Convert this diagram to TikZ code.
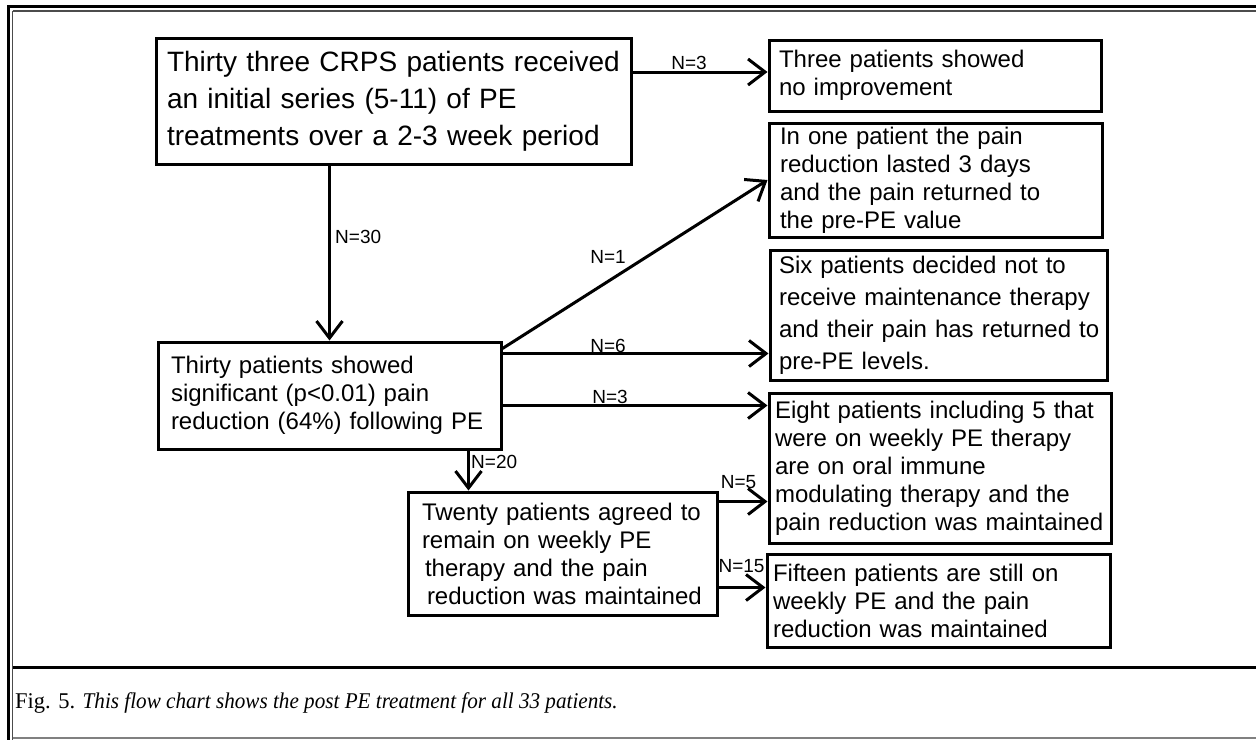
\documentclass[tikz,border=0pt]{standalone}
\usepackage{fontspec}
\setmainfont{Liberation Sans}
\newfontfamily\capfont{Liberation Serif}
\newfontfamily\capfontit{Liberation Serif}[FakeStretch=0.94]
\usetikzlibrary{arrows.meta,calc}
\begin{document}
\begin{tikzpicture}[x=1pt,y=-1pt,
  box/.style={draw, line width=3pt, align=left, inner ysep=0pt, anchor=center},
  fbig/.style={font=\fontsize{28}{37}\selectfont},
  fmid/.style={font=\fontsize{24}{28}\selectfont},
  fwide/.style={font=\fontsize{24}{32}\selectfont},
  lab/.style={font=\fontsize{19}{21}\selectfont, inner sep=0pt},
  conn/.style={line width=3pt, -{Straight Barb[length=17pt,width=26pt]}},
  thickrule/.style={line width=3pt, black},
  thinrule/.style={line width=1.5pt, black!70},
]
\useasboundingbox (0,0) rectangle (1256,740);
\fill[white] (0,0) rectangle (1256,740);

% frame
\draw[thickrule] (8,6.5) -- (1256,6.5);
\draw[thickrule] (8,5) -- (8,740);
\draw[thinrule] (12.5,11) -- (1256,11);
\draw[thinrule] (12.5,11) -- (12.5,740);
\draw[thickrule] (12.5,667.5) -- (1256,667.5);
\draw[line width=2pt, black!50] (12.5,738) -- (1256,738);

% boxes
\node[box, fbig, minimum width=475pt, minimum height=126pt, inner xsep=11pt, text width=453pt] (b1) at (393.5,101.5)
  {\mbox{Thirty three CRPS patients received}\\\mbox{an initial series (5-11) of PE}\\\mbox{treatments over a 2-3 week period}};
\node[box, fmid, minimum width=332pt, minimum height=71pt, inner xsep=10pt, text width=312pt] (b2) at (935,75.5)
  {\mbox{Three patients showed}\\\mbox{no improvement}};
\node[box, fmid, minimum width=333pt, minimum height=114pt, inner xsep=11pt, text width=311pt] (b3) at (935.5,180)
  {\mbox{In one patient the pain}\\\mbox{reduction lasted 3 days}\\\mbox{and the pain returned to}\\\mbox{the pre-PE value}};
\node[box, fwide, minimum width=337pt, minimum height=130pt, inner xsep=9pt, text width=319pt] (b4) at (938.5,315)
  {\mbox{Six patients decided not to}\\\mbox{receive maintenance therapy}\\\mbox{and their pain has returned to}\\\mbox{pre-PE levels.}};
\node[box, fmid, minimum width=342pt, minimum height=150pt, inner xsep=6pt, text width=330pt] (b5) at (940,468)
  {\mbox{Eight patients including 5 that}\\\mbox{were on weekly PE therapy}\\\mbox{are on oral immune}\\\mbox{modulating therapy and the}\\\mbox{pain reduction was maintained}};
\node[box, fmid, minimum width=343pt, minimum height=93pt, inner xsep=6pt, text width=331pt] (b6) at (938.5,600.5)
  {\mbox{Fifteen patients are still on}\\\mbox{weekly PE and the pain}\\\mbox{reduction was maintained}};
\node[box, fmid, minimum width=343pt, minimum height=107pt, inner xsep=13pt, text width=317pt] (bB) at (329.5,395.5)
  {\mbox{Thirty patients showed}\\\mbox{significant (p<0.01) pain}\\\mbox{reduction (64\%) following PE}};
\node[box, fmid, minimum width=309pt, minimum height=123pt, inner xsep=14pt, text width=281pt] (bC) at (562.5,553.5)
  {\mbox{Twenty patients agreed to}\\\mbox{remain on weekly PE}\\\mbox{\hspace*{3pt}therapy and the pain}\\\mbox{\hspace*{5pt}reduction was maintained}};

% connectors
\coordinate (s3) at ($(b2.west -| b1.east)+(0,-3.5)$);
\draw[conn] (s3) -- (s3 -| b2.west);
\draw[conn] (b1.south -| bB.north) -- (bB.north);
\draw[conn] ($(bB.north east)+(0,8)$) -- (b3.west);
\coordinate (s6) at ($(bB.north east)+(0,13)$);
\draw[conn] (s6) -- (s6 -| b4.west);
\coordinate (s3b) at ($(bB.north east)+(0,65)$);
\draw[conn] (s3b) -- (s3b -| b5.west);
\coordinate (s20) at ($(bB.south east)+(-34,0)$);
\draw[conn] (s20) -- (s20 |- bC.north);
\coordinate (s5) at ($(bC.north east)+(0,11)$);
\draw[conn] (s5) -- (s5 -| b5.west);
\coordinate (s15) at ($(bC.north east)+(0,97)$);
\draw[conn] (s15) -- (s15 -| b6.west);

% labels
\node[lab] (l3) at (689,63) {N=3};
\node[lab, anchor=west] (l30) at (335,237) {N=30};
\node[lab] (l1) at (608,257) {N=1};
\node[lab] (l6) at (608,346) {N=6};
\node[lab] (l3b) at (610,397) {N=3};
\node[lab, anchor=west] (l20) at (471,462) {N=20};
\node[lab] (l5) at (738.5,482) {N=5};
\node[lab] (l15) at (741.5,566) {N=15};

% caption
\node[anchor=base west, inner sep=0pt, font=\capfont\fontsize{22.5}{27}\selectfont] (cap) at (15,708)
  {Fig. 5. {\capfontit\itshape This flow chart shows the post PE treatment for all 33 patients.}};
\end{tikzpicture}
\end{document}
